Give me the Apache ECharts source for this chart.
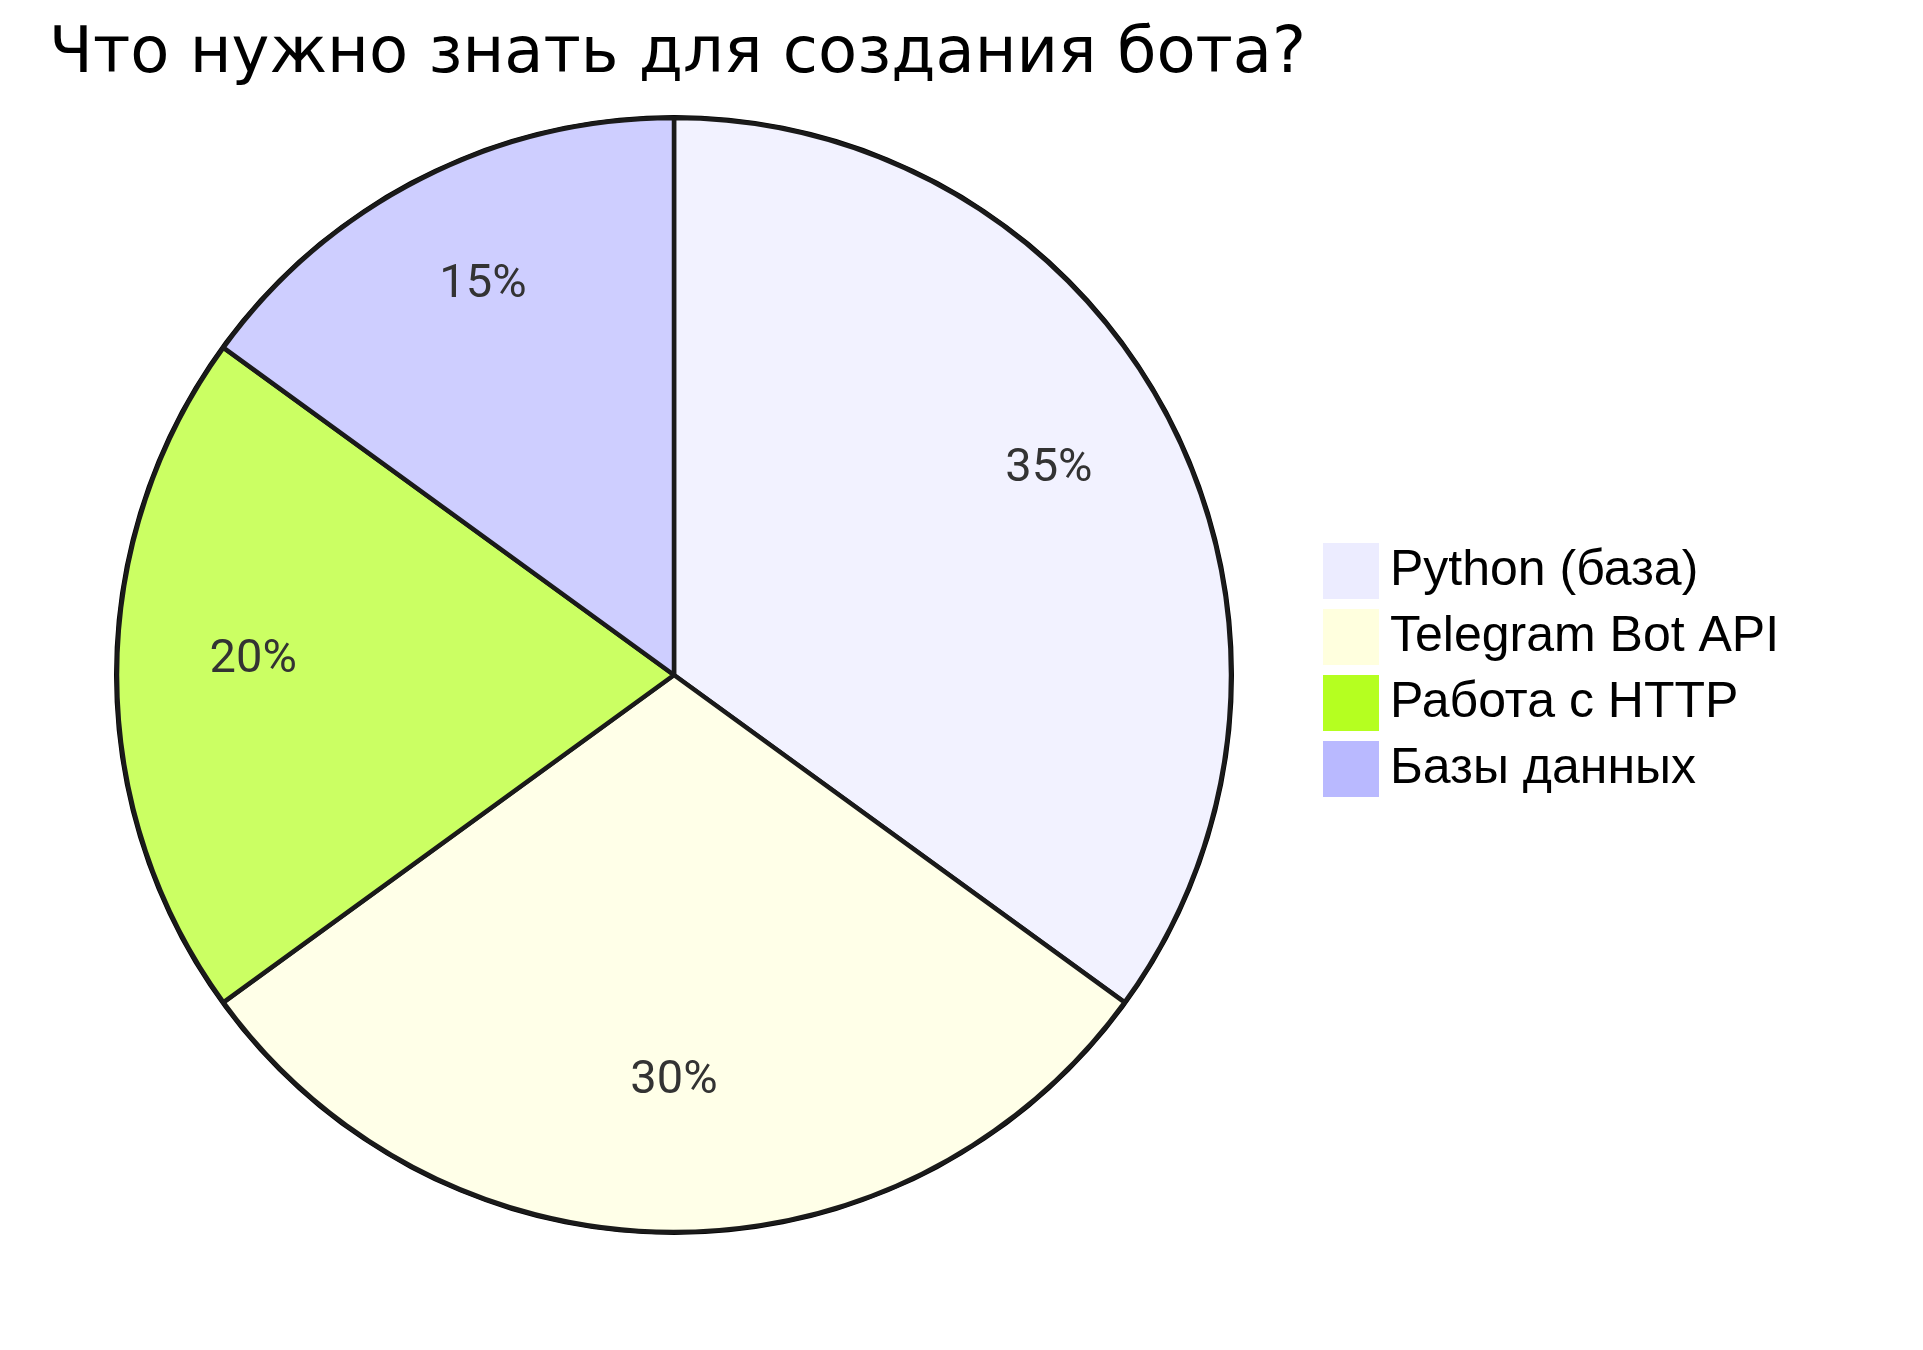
<!DOCTYPE html>
<html>
<head>
<meta charset="utf-8">
<script src="https://cdn.jsdelivr.net/npm/echarts@6/dist/echarts.min.js"></script>
<style>
html, body { margin: 0; padding: 0; background: #fff; }
#main { width: 1923px; height: 1350px; }
</style>
</head>
<body>
<div id="main"></div>
<script>
// данные диаграммы
var names = ['Python (база)', 'Telegram Bot API', 'Работа с HTTP', 'Базы данных'];
var values = [35, 30, 20, 15];
var legendColors = ['#ECECFF', '#FFFFDE', '#B5FF20', '#B9B9FF'];   // цвета легенды
var sliceColors = ['#F2F2FF', '#FFFFE8', '#CBFF63', '#CECEFF'];    // цвета секторов (0.7 на белом)

var dom = document.getElementById('main');
var myChart = echarts.init(dom);

var R = 557;
var center = [674, 675];

var sliceData = [];
var labelData = [];
var legendData = [];
for (var i = 0; i < names.length; i++) {
    sliceData.push({ name: names[i], value: values[i], itemStyle: { color: sliceColors[i] } });
    labelData.push({ name: names[i], value: values[i] });
    legendData.push({ name: names[i], itemStyle: { color: legendColors[i], borderWidth: 0 } });
}

var option = {
    animation: false,
    title: {
        text: 'Что нужно знать для создания бота?',
        left: 44,
        top: 18,
        textStyle: {
            fontFamily: 'DejaVu Sans',
            fontSize: 64,
            fontWeight: 'normal',
            color: '#000'
        }
    },
    legend: {
        orient: 'vertical',
        left: 1318,
        top: 538,
        itemWidth: 56,
        itemHeight: 56,
        itemGap: 10,
        icon: 'rect',
        data: legendData,
        itemStyle: { borderWidth: 0 },
        textStyle: {
            fontFamily: 'Liberation Sans',
            fontSize: 50,
            color: '#000',
            padding: [0, 0, 0, 6]
        }
    },
    series: [
        {
            // внешний круг
            type: 'pie',
            silent: true,
            center: center,
            radius: [R - 2, R + 3],
            label: { show: false },
            labelLine: { show: false },
            itemStyle: { color: '#000', borderWidth: 0 },
            data: [{ name: 'ring', value: 1 }]
        },
        {
            name: 'Что нужно знать',
            type: 'pie',
            center: center,
            radius: [0, R],
            startAngle: 90,
            label: { show: false },
            labelLine: { show: false },
            itemStyle: { borderColor: '#1a1a1a', borderWidth: 4.5 },
            data: sliceData
        },
        {
            // подписи на 0.75 радиуса
            type: 'pie',
            silent: true,
            center: center,
            radius: [R * 0.5, R],
            startAngle: 90,
            itemStyle: { color: 'rgba(0,0,0,0)', borderWidth: 0 },
            label: {
                show: true,
                position: 'inside',
                formatter: '{c}%',
                fontFamily: 'Roboto',
                fontSize: 47,
                color: '#333'
            },
            labelLayout: { dy: -15 },
            labelLine: { show: false },
            data: labelData
        }
    ]
};

myChart.setOption(option, true);
</script>
</body>
</html>
